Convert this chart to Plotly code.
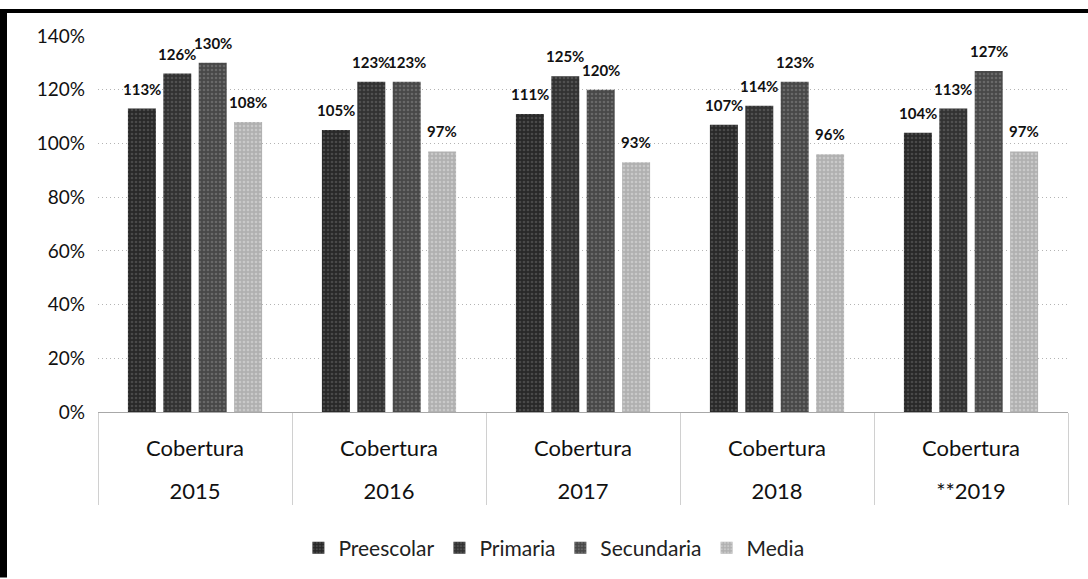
import plotly.graph_objects as go

# Cobertura por nivel educativo, 2015-2019
years = ["2015", "2016", "2017", "2018", "**2019"]
group_label = "Cobertura"
series_names = ["Preescolar", "Primaria", "Secundaria", "Media"]
preescolar = [1.13, 1.05, 1.11, 1.07, 1.04]
primaria = [1.26, 1.23, 1.25, 1.14, 1.13]
secundaria = [1.30, 1.23, 1.20, 1.23, 1.27]
media = [1.08, 0.97, 0.93, 0.96, 0.97]
y_ticks = [0, 0.2, 0.4, 0.6, 0.8, 1.0, 1.2, 1.4]

series_values = [preescolar, primaria, secundaria, media]
colors = ["#282828", "#323232", "#484848", "#b0b0b0"]
speckle = ["#6a6a6a", "#707070", "#8a8a8a", "#e2e2e2"]

W, H = 1088, 579
M = dict(l=98, r=20, t=36, b=166)
BARGAP = 0.27
GROUPGAP = 0.21
FONT = "Lato"
n = len(years)

fig = go.Figure()
for name, vals, c, s in zip(series_names, series_values, colors, speckle):
    fig.add_trace(go.Bar(
        name=name,
        x=years,
        y=vals,
        marker=dict(
            color=c,
            line=dict(width=0),
            pattern=dict(shape=".", fgcolor=s, bgcolor=c, size=4, solidity=0.35),
        ),
    ))

# empty helper traces so the label-row and divider axes get drawn
for ax in ("x2", "x3"):
    fig.add_trace(go.Scatter(
        x=[], y=[], xaxis=ax, yaxis="y", mode="markers",
        showlegend=False, hoverinfo="skip",
    ))

# value labels above each bar, offset to the bar's slot within its group
plot_w = W - M["l"] - M["r"]
plot_h = H - M["t"] - M["b"]
cat_w = plot_w / n
slot = cat_w * (1 - BARGAP) / len(series_names)
annotations = []
for k, vals in enumerate(series_values):
    dx = (k - (len(series_names) - 1) / 2) * slot
    for i, v in enumerate(vals):
        annotations.append(dict(
            x=i, y=v, xref="x", yref="y",
            text=f"{round(v * 100)}%",
            showarrow=False, xshift=dx, yshift=20,
            xanchor="center", yanchor="middle",
            font=dict(family=FONT, size=15, color="#111111", weight="bold"),
        ))

# scanned page frame: heavy rule along the top and left edges
px = lambda p: (p - M["l"]) / plot_w
py = lambda p: (H - M["b"] - p) / plot_h
shapes = [
    dict(type="rect", xref="paper", yref="paper",
         x0=px(0), x1=px(W), y0=py(13), y1=py(9),
         fillcolor="#000000", line=dict(width=0), layer="above"),
    dict(type="rect", xref="paper", yref="paper",
         x0=px(0), x1=px(7), y0=py(H), y1=py(9),
         fillcolor="#000000", line=dict(width=0), layer="above"),
]

cat_range = [-0.5, n - 0.5]

fig.update_layout(
    width=W, height=H,
    margin=M,
    paper_bgcolor="white",
    plot_bgcolor="white",
    barmode="group",
    bargap=BARGAP,
    bargroupgap=GROUPGAP,
    font=dict(family=FONT, color="#111111"),
    showlegend=True,
    legend=dict(
        orientation="h", x=0.47, xanchor="center", y=py(548), yanchor="middle",
        font=dict(family=FONT, size=21, color="#222222"),
        itemwidth=30, tracegroupgap=0,
    ),
    annotations=annotations,
    shapes=shapes,
    yaxis=dict(
        range=[0, 1.4],
        tickvals=y_ticks,
        tickformat=".0%",
        tickfont=dict(family=FONT, size=19, color="#111111"),
        ticklabelstandoff=12,
        showgrid=True,
        gridcolor="#b4b4b4",
        griddash="1px,3px",
        gridwidth=1,
        zeroline=False,
        showline=False,
    ),
    # upper row of category labels
    xaxis=dict(
        type="category",
        range=cat_range,
        tickvals=years,
        ticktext=[group_label] * n,
        tickfont=dict(family=FONT, size=22, color="#111111"),
        ticklabelstandoff=17,
        ticks="",
        showgrid=False,
        showline=True,
        linecolor="#a8a8a8",
        linewidth=1,
        zeroline=False,
    ),
    # lower row: the year of each group
    xaxis2=dict(
        overlaying="x", anchor="y", side="bottom",
        range=cat_range,
        tickvals=list(range(n)),
        ticktext=years,
        tickfont=dict(family=FONT, size=22, color="#111111"),
        ticklabelstandoff=64,
        ticks="",
        showgrid=False,
        showline=False,
        zeroline=False,
    ),
    # dividers between groups, running down through both label rows
    xaxis3=dict(
        overlaying="x", anchor="y", side="bottom",
        range=cat_range,
        tickvals=[i - 0.5 for i in range(n + 1)],
        ticks="outside",
        ticklen=92,
        tickwidth=1,
        tickcolor="#d0d0d0",
        showticklabels=False,
        showgrid=False,
        showline=False,
        zeroline=False,
    ),
)

fig.write_html("out.html")
